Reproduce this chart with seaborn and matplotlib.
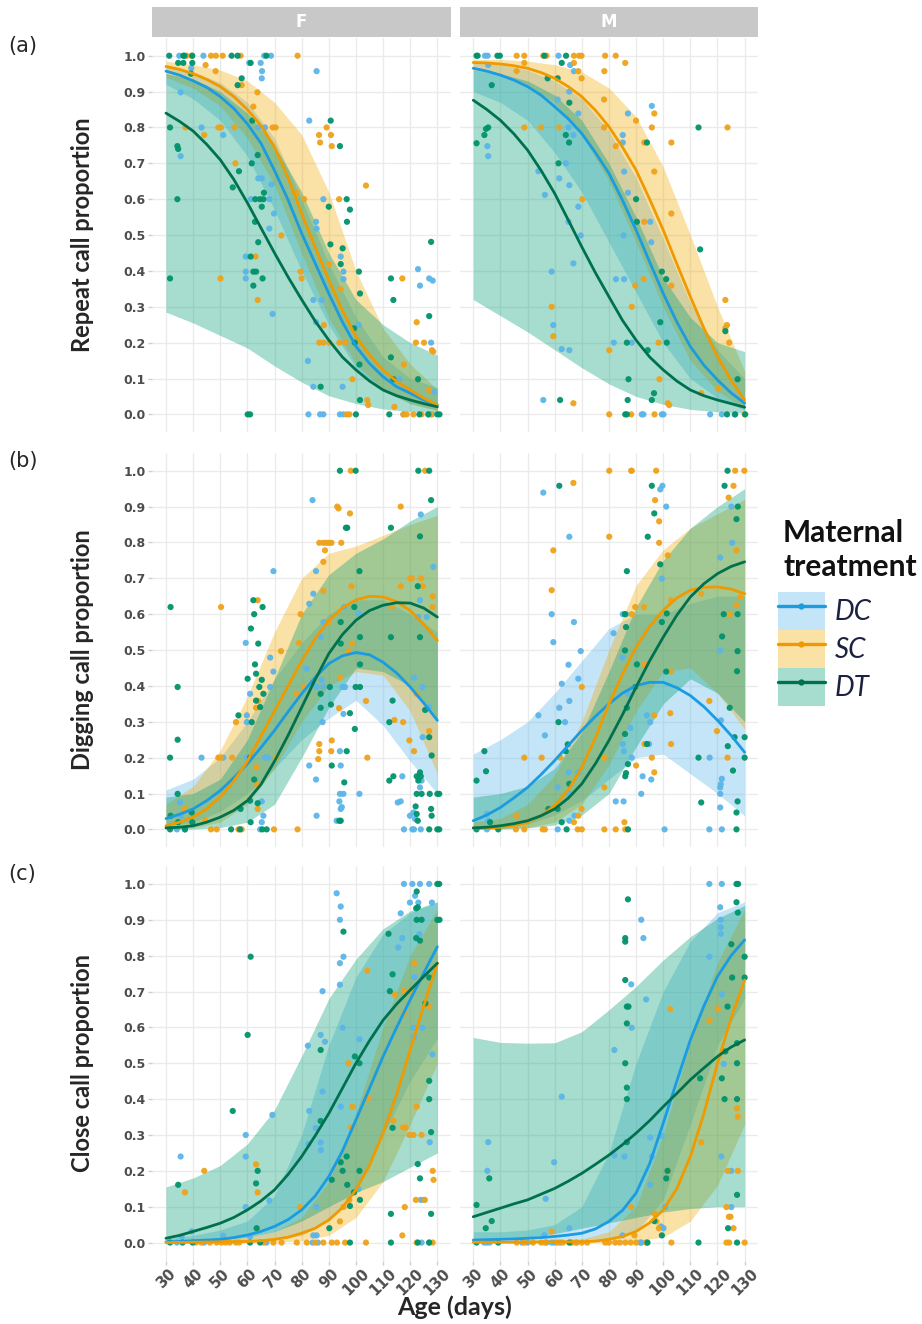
import numpy as np
import pandas as pd
import matplotlib
matplotlib.use("Agg")
import matplotlib.pyplot as plt
import seaborn as sns
from matplotlib.patches import Patch
from matplotlib.lines import Line2D
from matplotlib.legend_handler import HandlerTuple

# ---------------- data ----------------
fit_ages = [30, 35, 40, 45, 50, 55, 60, 65, 70, 75, 80, 85, 90, 95, 100, 105, 110, 115, 120, 125, 130]
band_ages = [30, 40, 50, 60, 70, 80, 90, 100, 110, 120, 130]
groups = ["DC", "SC", "DT"]
sexes = ["F", "M"]
rows = ["a", "b", "c"]
row_titles = ["Repeat call proportion", "Digging call proportion", "Close call proportion"]
x_ticks = [30, 40, 50, 60, 70, 80, 90, 100, 110, 120, 130]
y_ticks = [0.0, 0.1, 0.2, 0.3, 0.4, 0.5, 0.6, 0.7, 0.8, 0.9, 1.0]

# ---- row a: repeat calls (fitted line every 5 days, ribbon every 10 days)
a_F_DC_fit = [0.957, 0.946, 0.93, 0.912, 0.886, 0.853, 0.81, 0.756, 0.68, 0.598, 0.505, 0.421, 0.337, 0.258, 0.19, 0.142, 0.105, 0.077, 0.059, 0.04, 0.026]
a_F_DC_lo = [0.92, 0.88, 0.82, 0.72, 0.57, 0.40, 0.25, 0.13, 0.065, 0.03, 0.012]
a_F_DC_hi = [0.975, 0.955, 0.925, 0.87, 0.77, 0.60, 0.42, 0.27, 0.16, 0.10, 0.075]
a_F_SC_fit = [0.97, 0.962, 0.95, 0.934, 0.914, 0.886, 0.85, 0.805, 0.746, 0.66, 0.56, 0.466, 0.375, 0.29, 0.217, 0.165, 0.124, 0.092, 0.068, 0.045, 0.026]
a_F_SC_lo = [0.94, 0.91, 0.86, 0.77, 0.64, 0.45, 0.27, 0.14, 0.07, 0.03, 0.01]
a_F_SC_hi = [0.985, 0.975, 0.96, 0.93, 0.87, 0.78, 0.62, 0.40, 0.24, 0.14, 0.07]
a_F_DT_fit = [0.84, 0.817, 0.79, 0.753, 0.71, 0.655, 0.59, 0.52, 0.45, 0.383, 0.32, 0.26, 0.207, 0.16, 0.124, 0.093, 0.068, 0.052, 0.04, 0.03, 0.021]
a_F_DT_lo = [0.285, 0.255, 0.22, 0.185, 0.135, 0.09, 0.052, 0.03, 0.015, 0.008, 0.005]
a_F_DT_hi = [0.95, 0.935, 0.9, 0.84, 0.75, 0.62, 0.45, 0.32, 0.25, 0.2, 0.165]

a_M_DC_fit = [0.965, 0.957, 0.946, 0.932, 0.914, 0.89, 0.858, 0.824, 0.783, 0.73, 0.672, 0.597, 0.514, 0.425, 0.337, 0.258, 0.189, 0.137, 0.096, 0.06, 0.031]
a_M_DC_lo = [0.9, 0.87, 0.82, 0.73, 0.62, 0.48, 0.34, 0.2, 0.1, 0.045, 0.012]
a_M_DC_hi = [0.98, 0.975, 0.96, 0.93, 0.88, 0.79, 0.66, 0.49, 0.31, 0.18, 0.1]
a_M_SC_fit = [0.981, 0.98, 0.977, 0.972, 0.965, 0.953, 0.937, 0.914, 0.886, 0.848, 0.802, 0.745, 0.681, 0.6, 0.514, 0.42, 0.328, 0.24, 0.161, 0.095, 0.04]
a_M_SC_lo = [0.96, 0.95, 0.92, 0.87, 0.78, 0.65, 0.48, 0.3, 0.15, 0.065, 0.015]
a_M_SC_hi = [0.99, 0.99, 0.985, 0.975, 0.955, 0.91, 0.83, 0.69, 0.5, 0.3, 0.12]
a_M_DT_fit = [0.876, 0.85, 0.82, 0.782, 0.737, 0.68, 0.616, 0.542, 0.467, 0.395, 0.328, 0.262, 0.207, 0.16, 0.124, 0.093, 0.068, 0.052, 0.04, 0.03, 0.02]
a_M_DT_lo = [0.32, 0.275, 0.23, 0.18, 0.13, 0.085, 0.05, 0.028, 0.014, 0.007, 0.004]
a_M_DT_hi = [0.96, 0.95, 0.93, 0.89, 0.82, 0.7, 0.55, 0.38, 0.27, 0.2, 0.175]

# ---- row b: digging calls
b_F_DC_fit = [0.03, 0.042, 0.057, 0.08, 0.108, 0.144, 0.183, 0.228, 0.276, 0.328, 0.378, 0.424, 0.462, 0.484, 0.493, 0.487, 0.466, 0.436, 0.397, 0.352, 0.304]
b_F_DC_lo = [0.01, 0.02, 0.05, 0.1, 0.17, 0.25, 0.31, 0.36, 0.29, 0.19, 0.1]
b_F_DC_hi = [0.11, 0.14, 0.2, 0.3, 0.42, 0.52, 0.6, 0.64, 0.64, 0.6, 0.55]
b_F_SC_fit = [0.01, 0.02, 0.034, 0.057, 0.09, 0.135, 0.19, 0.26, 0.33, 0.4, 0.47, 0.532, 0.583, 0.618, 0.64, 0.65, 0.648, 0.635, 0.61, 0.572, 0.527]
b_F_SC_lo = [0.002, 0.005, 0.02, 0.07, 0.17, 0.3, 0.4, 0.44, 0.43, 0.33, 0.155]
b_F_SC_hi = [0.07, 0.12, 0.22, 0.37, 0.55, 0.7, 0.77, 0.79, 0.82, 0.85, 0.876]
b_F_DT_fit = [0.004, 0.006, 0.01, 0.02, 0.034, 0.053, 0.08, 0.125, 0.19, 0.262, 0.34, 0.418, 0.49, 0.543, 0.583, 0.61, 0.625, 0.632, 0.631, 0.617, 0.592]
b_F_DT_lo = [0.0, 0.001, 0.005, 0.02, 0.07, 0.2, 0.34, 0.45, 0.44, 0.4, 0.3]
b_F_DT_hi = [0.09, 0.1, 0.14, 0.25, 0.42, 0.6, 0.71, 0.77, 0.81, 0.86, 0.9]

b_M_DC_fit = [0.024, 0.04, 0.061, 0.088, 0.117, 0.153, 0.192, 0.234, 0.276, 0.315, 0.35, 0.38, 0.401, 0.41, 0.41, 0.395, 0.373, 0.342, 0.304, 0.262, 0.215]
b_M_DC_lo = [0.0, 0.005, 0.015, 0.04, 0.08, 0.14, 0.2, 0.21, 0.155, 0.1, 0.038]
b_M_DC_hi = [0.21, 0.25, 0.3, 0.38, 0.47, 0.56, 0.6, 0.6, 0.63, 0.65, 0.65]
b_M_SC_fit = [0.004, 0.004, 0.006, 0.011, 0.02, 0.038, 0.066, 0.11, 0.173, 0.255, 0.35, 0.433, 0.508, 0.566, 0.611, 0.645, 0.667, 0.675, 0.676, 0.67, 0.657]
b_M_SC_lo = [0.0, 0.001, 0.005, 0.02, 0.07, 0.18, 0.33, 0.44, 0.45, 0.38, 0.28]
b_M_SC_hi = [0.02, 0.03, 0.07, 0.15, 0.3, 0.5, 0.68, 0.78, 0.84, 0.88, 0.92]
b_M_DT_fit = [0.004, 0.006, 0.01, 0.016, 0.024, 0.038, 0.057, 0.087, 0.127, 0.183, 0.248, 0.32, 0.397, 0.47, 0.536, 0.597, 0.648, 0.685, 0.713, 0.733, 0.746]
b_M_DT_lo = [0.0, 0.001, 0.004, 0.012, 0.04, 0.1, 0.23, 0.35, 0.42, 0.38, 0.3]
b_M_DT_hi = [0.09, 0.1, 0.12, 0.17, 0.27, 0.44, 0.62, 0.75, 0.84, 0.9, 0.95]

# ---- row c: close calls
c_F_DC_fit = [0.002, 0.003, 0.005, 0.007, 0.009, 0.014, 0.021, 0.031, 0.045, 0.064, 0.091, 0.13, 0.184, 0.255, 0.342, 0.43, 0.519, 0.6, 0.677, 0.752, 0.825]
c_F_DC_lo = [0.0, 0.0, 0.001, 0.003, 0.008, 0.02, 0.06, 0.15, 0.3, 0.45, 0.57]
c_F_DC_hi = [0.01, 0.02, 0.035, 0.06, 0.13, 0.3, 0.55, 0.74, 0.86, 0.92, 0.95]
c_F_SC_fit = [0.0, 0.0005, 0.001, 0.0015, 0.002, 0.0025, 0.003, 0.005, 0.009, 0.015, 0.026, 0.04, 0.063, 0.097, 0.147, 0.215, 0.305, 0.413, 0.537, 0.66, 0.779]
c_F_SC_lo = [0.0, 0.0, 0.0, 0.0, 0.001, 0.005, 0.02, 0.07, 0.17, 0.33, 0.5]
c_F_SC_hi = [0.003, 0.005, 0.008, 0.015, 0.03, 0.07, 0.17, 0.36, 0.6, 0.8, 0.93]
c_F_DT_fit = [0.012, 0.02, 0.031, 0.042, 0.054, 0.07, 0.091, 0.116, 0.147, 0.19, 0.24, 0.298, 0.36, 0.43, 0.5, 0.563, 0.62, 0.665, 0.704, 0.742, 0.779]
c_F_DT_lo = [0.0, 0.003, 0.007, 0.015, 0.03, 0.06, 0.1, 0.14, 0.17, 0.21, 0.25]
c_F_DT_hi = [0.155, 0.18, 0.215, 0.275, 0.37, 0.52, 0.68, 0.79, 0.875, 0.925, 0.95]

c_M_DC_fit = [0.007, 0.008, 0.009, 0.01, 0.012, 0.014, 0.017, 0.021, 0.026, 0.038, 0.059, 0.09, 0.138, 0.22, 0.333, 0.45, 0.565, 0.66, 0.742, 0.8, 0.844]
c_M_DC_lo = [0.0, 0.0, 0.0, 0.001, 0.003, 0.01, 0.03, 0.12, 0.33, 0.55, 0.68]
c_M_DC_hi = [0.03, 0.03, 0.035, 0.05, 0.1, 0.25, 0.5, 0.7, 0.84, 0.92, 0.95]
c_M_SC_fit = [0.001, 0.001, 0.001, 0.001, 0.001, 0.002, 0.002, 0.002, 0.002, 0.004, 0.009, 0.017, 0.031, 0.055, 0.091, 0.15, 0.24, 0.36, 0.5, 0.625, 0.732]
c_M_SC_lo = [0.0, 0.0, 0.0, 0.0, 0.0, 0.001, 0.005, 0.015, 0.06, 0.16, 0.33]
c_M_SC_hi = [0.002, 0.002, 0.003, 0.005, 0.01, 0.03, 0.1, 0.3, 0.56, 0.78, 0.93]
c_M_DT_fit = [0.072, 0.084, 0.096, 0.108, 0.119, 0.135, 0.151, 0.171, 0.193, 0.218, 0.244, 0.273, 0.305, 0.34, 0.379, 0.416, 0.454, 0.487, 0.519, 0.545, 0.565]
c_M_DT_lo = [0.003, 0.008, 0.015, 0.025, 0.04, 0.055, 0.07, 0.085, 0.095, 0.1, 0.1]
c_M_DT_hi = [0.572, 0.558, 0.556, 0.557, 0.588, 0.649, 0.714, 0.788, 0.853, 0.904, 0.94]

# observed points (age, proportion)
a_F_DT_pts = [(31.2,1.0),(36.4,1.0),(36.8,1.0),(39.7,1.0),(54.2,1.0),(56.4,1.0),(67.0,1.0),(34.5,0.98),(36.4,0.98),(39.7,0.98),(39.2,0.95),(61.2,0.98),(57.9,0.937),(56.4,0.918),(61.8,0.819),(31.5,0.8),(34.2,0.748),(34.5,0.74),(90.7,0.819),(94.1,0.748),(63.8,0.723),(61.6,0.7),(56.9,0.678),(54.6,0.633),(34.2,0.6),(62.9,0.6),(64.6,0.6),(65.9,0.6),(66.1,0.618),(65.3,0.579),(62.8,0.537),(64.0,0.48),(90.6,0.474),(95.1,0.463),(96.6,0.6),(90.0,0.579),(97.8,0.571),(96.7,0.537),(94.4,0.419),(61.2,0.44),(62.2,0.398),(63.2,0.398),(62.2,0.359),(65.6,0.379),(31.5,0.379),(101.1,0.398),(101.5,0.337),(99.3,0.24),(99.6,0.2),(101.3,0.139),(101.5,0.04),(112.9,0.379),(113.8,0.319),(112.9,0.159),(113.8,0.098),(122.9,0.098),(127.0,0.274),(127.7,0.481),(87.0,0.077),(60.1,0.0),(61.0,0.0),(100.0,0.0),(112.3,0.0),(123.4,0.0),(126.7,0.0),(130.0,0.0),(130.8,0.0)]
a_F_DC_pts = [(34.9,1.0),(43.8,1.0),(66.2,1.0),(68.7,1.0),(60.7,0.98),(64.9,0.98),(65.4,0.957),(65.3,0.937),(85.5,0.957),(39.3,0.965),(35.4,0.898),(43.1,0.8),(51.1,0.779),(64.0,0.8),(66.5,0.8),(82.8,0.819),(35.4,0.72),(64.0,0.658),(65.3,0.658),(68.9,0.641),(61.3,0.6),(68.1,0.6),(88.0,0.6),(69.8,0.56),(68.1,0.518),(85.3,0.537),(85.5,0.518),(59.4,0.44),(59.4,0.398),(59.4,0.379),(94.4,0.44),(95.4,0.398),(95.4,0.377),(84.3,0.319),(87.4,0.319),(85.3,0.257),(69.3,0.28),(82.3,0.149),(84.3,0.077),(95.1,0.077),(101.1,0.249),(116.0,0.098),(122.9,0.405),(123.6,0.359),(127.0,0.379),(128.3,0.373),(127.7,0.2),(128.8,0.063),(95.4,0.0),(86.8,0.0),(88.0,0.0),(82.5,0.0),(94.1,0.0),(126.7,0.0),(128.0,0.0),(117.5,0.0)]
a_F_SC_pts = [(37.6,1.0),(39.5,1.0),(46.6,1.0),(48.4,1.0),(50.9,1.0),(57.5,1.0),(78.5,1.0),(44.6,0.974),(48.3,0.957),(57.9,0.918),(63.7,0.898),(62.2,0.858),(37.2,0.8),(44.1,0.779),(49.3,0.8),(50.3,0.8),(55.2,0.8),(69.3,0.8),(70.4,0.8),(89.2,0.8),(86.4,0.779),(86.8,0.758),(90.8,0.779),(91.1,0.748),(55.6,0.7),(78.2,0.618),(80.9,0.6),(93.8,0.6),(103.7,0.638),(72.5,0.499),(63.0,0.44),(63.8,0.319),(50.1,0.379),(79.6,0.398),(80.0,0.379),(90.2,0.419),(94.4,0.349),(88.2,0.249),(86.5,0.2),(88.0,0.2),(90.2,0.2),(93.9,0.2),(96.0,0.2),(98.7,0.098),(104.2,0.04),(104.5,0.026),(117.7,0.139),(117.1,0.379),(122.4,0.257),(122.1,0.2),(125.1,0.2),(128.0,0.179),(128.5,0.175),(127.0,0.068),(114.2,0.021),(97.6,0.0),(96.6,0.0),(117.5,0.0),(118.7,0.0),(121.2,0.0),(124.2,0.0),(127.7,0.0)]

a_M_DT_pts = [(31.2,1.0),(31.6,1.0),(38.9,1.0),(39.8,1.0),(56.2,1.0),(64.2,1.0),(62.6,0.98),(57.4,0.937),(61.1,0.937),(65.4,0.869),(36.8,0.918),(35.5,0.8),(34.1,0.779),(34.7,0.796),(31.2,0.756),(64.1,0.779),(65.3,0.758),(61.4,0.7),(90.0,0.6),(90.3,0.537),(94.0,0.758),(113.0,0.8),(113.6,0.46),(99.5,0.398),(101.1,0.377),(98.9,0.257),(101.3,0.2),(86.6,0.2),(94.3,0.179),(87.2,0.098),(86.9,0.04),(96.6,0.059),(95.8,0.04),(62.0,0.04),(122.9,0.232),(127.4,0.098),(86.0,0.0),(86.6,0.0),(126.5,0.0),(123.5,0.0),(130.2,0.0)]
a_M_DC_pts = [(34.3,1.0),(35.3,1.0),(61.4,1.0),(65.7,0.974),(67.1,0.957),(35.5,0.974),(65.4,0.9),(61.1,0.878),(68.7,0.839),(65.1,0.8),(66.9,0.779),(35.2,0.748),(35.5,0.72),(54.0,0.678),(64.1,0.7),(61.7,0.658),(65.4,0.639),(56.4,0.612),(68.7,0.579),(65.1,0.537),(69.6,0.499),(66.9,0.421),(58.9,0.398),(59.5,0.249),(62.6,0.182),(65.4,0.179),(55.8,0.04),(87.0,0.839),(95.8,0.86),(85.1,0.779),(85.1,0.758),(85.6,0.677),(87.0,0.618),(85.4,0.499),(95.2,0.537),(95.6,0.48),(82.6,0.377),(85.6,0.377),(81.8,0.2),(88.4,0.2),(92.1,0.0),(92.7,0.0),(99.5,0.0),(100.1,0.0),(117.3,0.0),(121.6,0.0),(126.3,0.0)]
a_M_SC_pts = [(46.0,1.0),(48.8,1.0),(55.8,1.0),(57.0,1.0),(67.1,1.0),(69.0,1.0),(69.9,1.0),(78.6,1.0),(82.5,1.0),(86.0,0.98),(48.8,0.98),(46.0,0.957),(67.1,0.98),(68.7,0.957),(69.9,0.937),(78.3,0.957),(78.2,0.878),(96.7,0.839),(90.0,0.819),(95.8,0.8),(78.2,0.8),(48.8,0.8),(55.0,0.8),(61.7,0.8),(82.5,0.748),(103.0,0.758),(93.0,0.758),(96.7,0.677),(70.2,0.6),(93.0,0.537),(103.0,0.56),(92.8,0.377),(89.7,0.359),(103.0,0.359),(88.4,0.3),(98.3,0.2),(80.1,0.179),(98.6,0.098),(101.7,0.031),(102.2,0.026),(114.0,0.059),(120.2,0.072),(122.9,0.319),(123.5,0.249),(122.9,0.24),(124.3,0.2),(123.7,0.8),(58.9,0.3),(59.5,0.218),(66.9,0.031),(80.1,0.0),(88.2,0.0),(96.8,0.0),(130.0,0.0)]

b_F_DT_pts = [(31.7,0.62),(34.3,0.397),(34.3,0.25),(31.5,0.2),(31.7,0.038),(34.3,0.099),(31.5,0.0),(34.5,0.02),(37.0,0.0),(39.5,0.047),(39.7,0.02),(54.0,0.0),(57.3,0.0),(56.7,0.318),(57.5,0.057),(61.0,0.08),(61.2,0.02),(60.1,0.42),(62.2,0.639),(62.5,0.6),(61.3,0.56),(64.0,0.518),(65.6,0.62),(62.8,0.46),(63.2,0.434),(65.3,0.417),(64.4,0.397),(65.9,0.378),(63.2,0.359),(64.7,0.341),(61.6,0.299),(61.0,0.2),(62.5,0.139),(63.8,0.073),(65.5,0.0),(67.1,0.0),(94.1,1.0),(99.9,1.0),(96.3,0.841),(96.8,0.841),(101.3,0.72),(94.4,0.578),(94.4,0.518),(99.4,0.62),(101.5,0.536),(101.5,0.46),(99.9,0.397),(101.5,0.397),(90.4,0.397),(87.0,0.378),(87.0,0.339),(90.8,0.348),(99.6,0.28),(97.8,0.324),(96.6,0.218),(91.1,0.178),(95.7,0.131),(93.9,0.024),(94.4,0.024),(112.9,0.841),(112.9,0.536),(113.5,0.359),(112.3,0.299),(112.3,0.136),(113.8,0.148),(123.0,1.0),(127.0,1.0),(127.7,0.918),(123.6,0.817),(122.8,0.678),(123.6,0.536),(125.5,0.333),(127.0,0.257),(127.9,0.206),(123.6,0.159),(122.4,0.148),(123.9,0.148),(123.0,0.136),(122.4,0.099),(124.2,0.099),(122.0,0.064),(122.4,0.043),(127.2,0.099),(130.0,0.099),(130.7,0.099),(127.7,0.057),(127.9,0.038),(127.0,0.0),(130.0,0.0),(130.7,0.0),(122.8,0.024)]
b_F_DC_pts = [(35.2,0.075),(35.5,0.038),(43.1,0.2),(34.0,0.0),(37.0,0.0),(59.4,0.52),(61.0,0.378),(59.8,0.318),(59.8,0.299),(59.8,0.2),(66.5,0.2),(67.7,0.2),(69.6,0.72),(69.6,0.44),(68.4,0.479),(68.4,0.397),(65.3,0.078),(65.9,0.038),(65.3,0.02),(64.7,0.0),(51.1,0.2),(84.0,0.918),(85.3,0.72),(84.3,0.657),(82.8,0.629),(81.8,0.448),(87.0,0.536),(88.0,0.578),(87.4,0.417),(85.5,0.397),(88.0,0.397),(87.7,0.299),(82.8,0.178),(85.3,0.139),(85.5,0.038),(94.1,0.218),(94.4,0.178),(94.1,0.099),(93.9,0.078),(94.4,0.057),(94.8,0.062),(95.4,0.099),(92.9,0.024),(95.1,0.397),(96.0,0.397),(95.6,0.62),(95.4,0.322),(100.9,0.602),(101.3,0.099),(115.4,0.075),(116.5,0.078),(117.1,0.148),(117.7,0.0),(120.8,0.0),(121.2,0.047),(121.8,0.029),(119.9,0.038),(123.9,0.878),(128.5,0.732),(123.6,0.639),(123.0,0.592),(126.1,0.592),(121.4,0.423),(124.5,0.397),(127.0,0.341),(124.6,0.257),(124.2,0.136),(123.6,0.117),(121.4,0.0),(123.9,0.0)]
b_F_SC_pts = [(37.0,0.057),(44.4,0.024),(46.6,0.0),(48.7,0.0),(50.3,0.62),(49.3,0.2),(50.3,0.2),(54.4,0.2),(55.8,0.299),(56.7,0.0),(57.9,0.0),(63.8,0.639),(63.2,0.339),(64.0,0.358),(63.2,0.173),(63.5,0.127),(63.8,0.057),(70.5,0.2),(69.8,0.0),(72.4,0.497),(78.2,0.378),(79.6,0.6),(79.0,0.52),(80.9,0.397),(78.5,0.0),(86.5,0.799),(88.0,0.799),(89.2,0.799),(90.2,0.799),(88.6,0.778),(88.0,0.746),(91.0,0.799),(94.6,0.799),(93.1,0.9),(93.6,0.895),(97.8,0.881),(98.1,1.0),(98.4,0.678),(98.5,0.518),(88.0,0.665),(90.1,0.578),(94.1,0.423),(93.8,0.338),(86.5,0.238),(86.5,0.218),(91.1,0.248),(90.9,0.218),(86.1,0.196),(97.2,0.497),(103.7,0.358),(104.2,0.2),(116.5,0.9),(116.5,0.678),(120.0,0.7),(120.6,0.7),(124.0,0.7),(124.6,0.678),(125.5,1.0),(128.3,0.65),(128.3,0.62),(117.4,0.299),(114.2,0.305),(119.7,0.248),(121.4,0.218),(122.4,0.378),(113.2,0.62),(127.0,0.274)]

b_M_DT_pts = [(31.2,0.136),(34.1,0.218),(34.7,0.162),(31.2,0.0),(39.2,0.0),(36.2,0.02),(61.7,0.958),(61.4,0.299),(64.8,0.237),(64.1,0.218),(65.4,0.127),(62.6,0.02),(57.7,0.057),(61.1,0.057),(64.4,0.0),(86.6,0.72),(85.9,0.499),(86.3,0.564),(85.9,0.6),(86.6,0.339),(85.9,0.266),(87.0,0.182),(86.0,0.148),(86.3,0.157),(89.7,0.397),(90.3,0.46),(94.0,0.238),(94.3,0.816),(95.8,0.958),(96.7,0.881),(98.9,0.739),(99.5,0.578),(101.3,0.602),(101.1,0.44),(87.0,0.0),(113.0,0.2),(114.0,0.075),(122.6,0.958),(123.7,1.0),(127.5,0.9),(127.0,0.865),(122.3,0.6),(127.4,0.6),(121.7,0.538),(127.4,0.497),(127.2,0.441),(124.5,0.339),(126.3,0.257),(123.8,0.232),(125.7,0.164),(130.0,0.257),(130.0,0.2),(127.4,0.078),(127.0,0.047),(127.0,0.0)]
b_M_DC_pts = [(35.0,0.043),(35.5,0.024),(35.0,0.0),(55.8,0.939),(58.9,0.6),(59.5,0.522),(54.0,0.318),(56.4,0.262),(65.4,0.816),(67.1,0.578),(65.1,0.459),(62.6,0.406),(65.4,0.358),(68.7,0.42),(69.6,0.497),(61.7,0.339),(63.8,0.299),(65.1,0.159),(61.1,0.117),(65.4,0.099),(65.4,0.024),(67.3,0.038),(68.7,0.159),(61.1,0.0),(81.7,0.547),(85.1,0.6),(86.3,0.6),(85.0,0.479),(87.0,0.378),(87.9,0.283),(85.1,0.238),(85.5,0.218),(88.4,0.2),(82.5,0.078),(85.4,0.078),(91.9,0.099),(92.4,0.148),(94.0,0.318),(95.2,0.299),(94.8,0.238),(95.6,0.139),(98.9,0.948),(99.7,0.958),(101.1,0.9),(99.5,0.699),(100.5,0.0),(121.0,0.758),(121.0,0.499),(125.1,0.9),(125.4,0.799),(121.3,0.304),(121.0,0.117),(121.2,0.126),(121.6,0.141),(121.0,0.099),(121.0,0.061),(117.0,0.0),(121.6,0.0),(117.1,0.2)]
b_M_SC_pts = [(46.0,0.038),(45.7,0.0),(48.8,0.2),(49.1,0.02),(48.8,0.0),(55.2,0.2),(55.6,0.0),(56.4,0.0),(59.5,0.778),(58.9,0.667),(62.0,0.2),(66.9,0.966),(70.0,0.397),(67.1,0.02),(69.9,0.057),(68.7,0.038),(68.5,0.0),(70.0,0.0),(78.3,0.117),(80.1,1.0),(80.1,0.816),(78.3,0.2),(82.5,0.0),(78.3,0.0),(88.2,1.0),(88.4,1.0),(88.4,0.6),(89.7,0.62),(92.9,0.62),(97.4,1.0),(97.0,0.918),(98.5,0.859),(98.5,0.799),(101.7,0.764),(102.9,0.639),(102.9,0.44),(93.1,0.46),(96.7,0.318),(93.1,0.238),(95.8,0.2),(96.7,0.159),(90.0,0.178),(85.7,0.02),(86.0,0.0),(102.6,0.324),(102.9,0.238),(114.0,0.657),(117.0,0.358),(119.8,0.274),(123.7,0.2),(125.9,0.958),(126.5,1.0),(129.9,1.0),(124.1,0.925),(127.0,0.778),(124.5,0.6),(127.0,0.625),(128.5,0.648)]

c_F_DT_pts = [(34.5,0.161),(31.5,0.0),(36.1,0.0),(39.8,0.0),(54.6,0.367),(61.2,0.797),(60.1,0.579),(63.2,0.165),(63.8,0.2),(63.4,0.04),(61.0,0.0),(64.7,0.0),(87.0,0.537),(87.0,0.339),(91.1,0.175),(90.2,0.04),(95.4,0.867),(94.4,0.224),(95.1,0.2),(96.6,0.24),(96.8,0.161),(97.8,0.102),(99.3,0.14),(99.6,0.519),(101.3,0.5),(101.3,0.2),(101.5,0.119),(97.8,0.0),(112.0,0.861),(112.5,0.701),(113.5,0.748),(113.5,0.32),(112.9,0.08),(112.9,0.0),(122.4,0.979),(122.8,0.935),(122.2,0.932),(122.4,0.9),(124.2,0.9),(122.2,0.849),(123.6,0.842),(125.6,0.667),(127.0,0.739),(127.0,0.451),(127.0,0.4),(127.7,0.308),(122.8,0.219),(123.6,0.179),(127.7,0.08),(122.8,0.0),(127.0,0.0),(130.0,1.0),(130.7,1.0),(130.0,0.9),(130.8,0.9)]
c_F_DC_pts = [(35.4,0.24),(39.5,0.031),(35.8,0.017),(34.0,0.0),(51.1,0.019),(59.4,0.3),(59.4,0.24),(59.4,0.099),(61.0,0.017),(68.1,0.117),(69.2,0.356),(82.3,0.549),(82.8,0.367),(82.5,0.275),(85.2,0.32),(87.0,0.279),(87.1,0.258),(87.7,0.421),(87.0,0.579),(88.6,0.56),(87.7,0.701),(92.9,0.974),(94.4,0.937),(94.1,0.9),(95.4,0.797),(94.1,0.779),(94.1,0.719),(95.1,0.599),(94.4,0.379),(85.5,0.099),(84.3,0.02),(85.5,0.02),(101.3,0.567),(100.9,0.149),(117.7,1.0),(120.8,1.0),(123.6,1.0),(127.0,1.0),(119.9,0.948),(123.0,0.948),(121.8,0.967),(128.0,0.948),(116.5,0.918),(115.6,0.823),(117.1,0.849),(121.5,0.74),(123.4,0.86),(121.2,0.599),(124.5,0.599),(121.5,0.574),(128.2,0.525),(127.2,0.28),(123.9,0.119),(125.1,0.119),(124.2,0.0),(127.0,0.0),(44.0,0.0),(67.0,0.0),(84.0,0.0),(86.0,0.0)]
c_F_SC_pts = [(37.0,0.14),(44.1,0.2),(63.2,0.218),(63.8,0.14),(63.6,0.04),(46.2,0.0),(48.7,0.0),(50.5,0.0),(55.8,0.0),(57.0,0.0),(69.6,0.0),(72.6,0.0),(78.2,0.0),(81.9,0.0),(91.1,0.0),(103.7,0.0),(79.4,0.099),(94.1,0.059),(95.4,0.099),(97.6,0.119),(98.2,0.321),(98.7,0.379),(97.2,0.5),(104.2,0.758),(104.5,0.402),(114.2,0.692),(117.7,0.701),(119.9,0.701),(121.5,0.779),(117.7,0.639),(113.8,0.34),(117.4,0.321),(118.4,0.321),(119.7,0.3),(121.2,0.3),(124.2,0.3),(122.4,0.379),(127.0,0.658),(128.3,0.2),(128.6,0.175),(122.1,0.119),(125.4,0.119),(118.0,0.099),(117.1,0.02),(122.4,0.0),(128.3,0.0),(41.0,0.0),(43.0,0.0),(52.0,0.0),(53.5,0.0),(66.0,0.0),(85.0,0.0),(88.0,0.0),(93.0,0.0),(96.0,0.0)]

c_M_DT_pts = [(31.2,0.105),(34.6,0.04),(36.8,0.06),(35.9,0.179),(31.2,0.0),(39.2,0.0),(65.4,0.0),(87.0,0.957),(86.0,0.849),(86.0,0.839),(86.0,0.732),(86.6,0.658),(87.2,0.658),(86.6,0.611),(86.0,0.5),(86.6,0.432),(86.6,0.4),(86.6,0.28),(101.1,0.179),(96.7,0.06),(99.5,0.02),(101.6,0.2),(94.2,0.0),(113.0,0.0),(113.6,0.458),(121.6,0.458),(122.6,0.4),(122.9,0.533),(127.2,0.556),(127.2,0.5),(127.2,0.4),(125.1,0.832),(125.4,0.739),(123.7,0.658),(127.0,1.0),(127.6,1.0),(127.0,0.949),(127.5,0.92),(130.0,0.797),(130.0,0.739),(127.2,0.133),(123.9,0.04),(127.2,0.0)]
c_M_DC_pts = [(35.5,0.28),(35.2,0.2),(35.0,0.0),(56.7,0.122),(59.8,0.224),(62.6,0.407),(65.4,0.04),(56.2,0.021),(58.9,0.0),(82.0,0.537),(82.0,0.243),(85.7,0.24),(85.0,0.02),(88.2,0.72),(88.4,0.599),(91.9,0.9),(92.7,0.849),(93.7,0.678),(95.2,0.293),(95.8,0.24),(95.2,0.161),(99.5,0.298),(99.2,0.045),(100.1,0.04),(100.7,0.099),(117.0,1.0),(121.6,1.0),(121.0,0.935),(121.2,0.9),(121.2,0.879),(121.2,0.861),(117.0,0.797),(121.6,0.692),(122.3,0.498),(121.4,0.24),(125.1,0.2),(125.1,0.099),(91.5,0.0),(34.0,0.0),(36.0,0.0),(48.0,0.0),(50.0,0.0),(57.0,0.0),(60.0,0.0),(62.0,0.0),(66.0,0.0),(68.0,0.0),(92.0,0.0),(94.0,0.0)]
c_M_SC_pts = [(58.9,0.031),(56.4,0.0),(46.0,0.0),(48.8,0.0),(61.1,0.0),(66.5,0.0),(70.0,0.0),(78.6,0.0),(82.3,0.0),(88.2,0.099),(89.4,0.02),(93.7,0.0),(96.8,0.08),(97.4,0.059),(98.4,0.04),(101.7,0.2),(102.6,0.651),(103.0,0.0),(114.0,0.28),(117.0,0.619),(120.1,0.651),(123.8,0.2),(127.5,0.2),(127.2,0.374),(127.5,0.351),(123.3,0.099),(124.2,0.072),(124.8,0.072),(125.9,0.04),(123.3,0.0),(124.3,0.0),(130.0,0.0),(52.0,0.0),(55.0,0.0),(63.0,0.0),(68.0,0.0),(72.0,0.0),(80.0,0.0),(84.0,0.0),(86.0,0.0),(88.0,0.0),(90.0,0.0)]

# ---------------- styling ----------------
line_colors = {"DC": "#1B9BE0", "SC": "#EE9A00", "DT": "#00714D"}
point_colors = {"DC": "#5BB5E8", "SC": "#EFA21A", "DT": "#00936B"}
ribbon_colors = {"DC": "#56B4E9", "SC": "#F2A900", "DT": "#009E73"}
RIB_ALPHA = 0.35

sns.set_style("white")
plt.rcParams["font.family"] = ["DejaVu Sans"]

g = globals()
fit_rows, band_rows, pt_rows = [], [], []
for r in rows:
    for s in sexes:
        for grp in groups:
            for a, f_ in zip(fit_ages, g[f"{r}_{s}_{grp}_fit"]):
                fit_rows.append(dict(row=r, sex=s, grp=grp, age=a, fit=f_))
            for a, l_, h_ in zip(band_ages, g[f"{r}_{s}_{grp}_lo"], g[f"{r}_{s}_{grp}_hi"]):
                band_rows.append(dict(row=r, sex=s, grp=grp, age=a, lo=l_, hi=h_))
            for a, v in g[f"{r}_{s}_{grp}_pts"]:
                pt_rows.append(dict(row=r, sex=s, grp=grp, age=a, val=v))
fits = pd.DataFrame(fit_rows)
bands = pd.DataFrame(band_rows)
pts = pd.DataFrame(pt_rows)

W, H = 922, 1324
fig = plt.figure(figsize=(W / 100, H / 100), dpi=100)


def rect(left, top, w, h):
    return [left / W, 1 - (top + h) / H, w / W, h / H]


col_left = {"F": 152.4, "M": 459.7}
row_top = {"a": 37.8, "b": 452.8, "c": 866.0}
PW, PH = 298.5, 394.5
tick_col = "#4D4D4D"

for ri, r in enumerate(rows):
    for s in sexes:
        ax = fig.add_axes(rect(col_left[s], row_top[r], PW, PH))
        ax.set_facecolor("white")
        sub_f = fits[(fits.row == r) & (fits.sex == s)]
        sub_b = bands[(bands.row == r) & (bands.sex == s)]
        sub_p = pts[(pts.row == r) & (pts.sex == s)]
        for grp in groups:
            d = sub_b[sub_b.grp == grp]
            ax.fill_between(d.age, d.lo, d.hi, color=ribbon_colors[grp],
                            alpha=RIB_ALPHA, linewidth=0, zorder=2)
        sns.scatterplot(data=sub_p, x="age", y="val", hue="grp", hue_order=groups,
                        palette=point_colors, s=20, linewidth=0, alpha=0.95,
                        legend=False, ax=ax, zorder=3)
        sns.lineplot(data=sub_f, x="age", y="fit", hue="grp", hue_order=groups,
                     palette=line_colors, linewidth=2.0, legend=False, ax=ax,
                     errorbar=None, zorder=4)
        ax.set_xlim(25, 135)
        ax.set_ylim(-0.05, 1.05)
        ax.set_xticks(x_ticks)
        ax.set_yticks(y_ticks)
        ax.grid(True, color="#EBEBEB", linewidth=1.0, zorder=0)
        ax.set_axisbelow(True)
        for sp in ax.spines.values():
            sp.set_visible(False)
        ax.set_xlabel("")
        ax.set_ylabel("")
        if s == "F":
            ax.set_yticklabels([f"{v:.1f}" for v in y_ticks], fontsize=9,
                               fontweight="bold", color=tick_col)
            ax.tick_params(axis="y", length=3, color="#CFCFCF", width=1, pad=2, left=True)
        else:
            ax.tick_params(axis="y", length=0, labelleft=False)
        if r == "c":
            ax.set_xticklabels([str(v) for v in x_ticks], fontsize=10.5,
                               fontweight="bold", color=tick_col,
                               rotation=45, ha="center", va="top")
            ax.tick_params(axis="x", length=3, color="#CFCFCF", width=1, pad=1, bottom=True)
        else:
            ax.tick_params(axis="x", length=0, labelbottom=False)
        if r == "a":
            sax = fig.add_axes(rect(col_left[s], 7.3, PW, 30))
            sax.set_facecolor("#C8C8C8")
            sax.set_xticks([])
            sax.set_yticks([])
            for sp in sax.spines.values():
                sp.set_visible(False)
            sax.text(0.5, 0.5, s, color="white", fontsize=12, fontweight="bold",
                     ha="center", va="center", transform=sax.transAxes)
    cy = row_top[r] + PH / 2
    fig.text(82 / W, 1 - cy / H, row_titles[ri], rotation=90, ha="center",
             va="center", fontsize=17, fontweight="bold", family="Lato")
    fig.text(8 / W, 1 - (row_top[r] + 8) / H, f"({r})", ha="left", va="center",
             fontsize=15)

fig.text(455 / W, 1 - 1307 / H, "Age (days)", ha="center", va="center",
         fontsize=18, fontweight="bold", family="Lato")

# legend
fig.text(783 / W, 1 - 533 / H, "Maternal", ha="left", va="center",
         fontsize=21.5, fontweight="bold", family="Lato", color="#111111")
fig.text(783 / W, 1 - 567 / H, "treatment", ha="left", va="center",
         fontsize=21.5, fontweight="bold", family="Lato", color="#111111")
handles = []
for grp in groups:
    handles.append((Patch(facecolor=ribbon_colors[grp], alpha=RIB_ALPHA, edgecolor="none"),
                    Line2D([], [], color=line_colors[grp], lw=2.4, marker="o",
                           markersize=3.5)))
leg = fig.legend(handles, groups, handler_map={tuple: HandlerTuple(ndivide=1)},
                 loc="upper left", bbox_to_anchor=(778 / W, 1 - 592 / H),
                 frameon=False,
                 prop={"family": "Lato", "style": "italic", "size": 20},
                 handlelength=1.69, handleheight=1.73, labelspacing=0.0,
                 handletextpad=0.36, borderaxespad=0, borderpad=0)
for t in leg.get_texts():
    t.set_color("#1B2140")

fig.savefig("out.png", dpi=100)
